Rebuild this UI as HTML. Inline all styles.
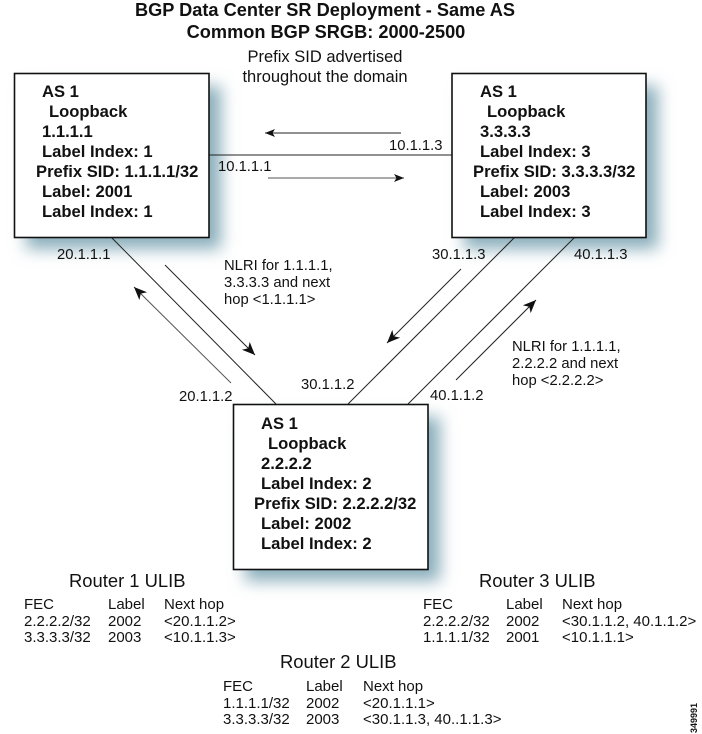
<!DOCTYPE html>
<html><head><meta charset="utf-8"><style>
html,body{margin:0;padding:0;background:#fff}
svg{display:block}
text{font-family:"Liberation Sans",sans-serif;fill:#111}
.b{font-weight:bold;font-size:16.6px}
.t{font-weight:bold;font-size:18.2px}
.n{font-size:14.8px}
.m{font-size:15px}
.h{font-size:18.4px}
.s{font-size:16.5px}
</style></head><body>
<svg width="702" height="734" viewBox="0 0 702 734" xmlns="http://www.w3.org/2000/svg">
<defs>
<filter id="bl" x="-25%" y="-25%" width="150%" height="150%"><feGaussianBlur stdDeviation="8"/></filter>
<marker id="a" markerUnits="userSpaceOnUse" markerWidth="15" markerHeight="12" refX="13" refY="5.500" orient="auto"><path d="M0 0L13 5.500L0 11L3.500 5.500Z" fill="#111"/></marker>
<marker id="c" markerUnits="userSpaceOnUse" markerWidth="12" markerHeight="10" refX="10" refY="4" orient="auto"><path d="M0 0L10 4L0 8L2.500 4Z" fill="#111"/></marker>
</defs>
<g fill="#8aaebb" filter="url(#bl)">
<rect x="26" y="86" width="195" height="163"/>
<rect x="464" y="86" width="194" height="163"/>
<rect x="245" y="417" width="195" height="164"/>
</g>
<g stroke="#222" stroke-width="1" fill="none">
<line x1="209" y1="155" x2="452" y2="155"/>
<line x1="111" y1="237" x2="276" y2="404"/>
<line x1="515" y1="237" x2="348" y2="404"/>
<line x1="575" y1="237" x2="408" y2="404"/>
<line x1="401" y1="133" x2="265" y2="133" marker-end="url(#c)"/>
<line x1="268" y1="178" x2="404" y2="178" stroke="#555" marker-end="url(#c)"/>
<line x1="165" y1="265" x2="255" y2="355" marker-end="url(#a)"/>
<line x1="231" y1="383" x2="134" y2="287" stroke="#555" marker-end="url(#a)"/>
<line x1="461" y1="269" x2="387" y2="343" marker-end="url(#a)"/>
<line x1="456" y1="380" x2="536" y2="300" marker-end="url(#a)"/>
</g>
<g fill="#fff" stroke="#111" stroke-width="1.6">
<rect x="14.500" y="73.500" width="194.500" height="164"/>
<rect x="452" y="73.500" width="194" height="164"/>
<rect x="233.500" y="404.500" width="194.500" height="165"/>
</g>
<text class="t" x="325" y="16" text-anchor="middle">BGP Data Center SR Deployment - Same AS</text>
<text class="t" x="326" y="38" text-anchor="middle">Common BGP SRGB: 2000-2500</text>
<text class="s" x="325" y="62" text-anchor="middle">Prefix SID advertised</text>
<text class="s" x="325" y="82" text-anchor="middle">throughout the domain</text>

<g>
<text class="b" x="42" y="97">AS 1</text>
<text class="b" x="49" y="117">Loopback</text>
<text class="b" x="42" y="137">1.1.1.1</text>
<text class="b" x="42" y="157">Label Index: 1</text>
<text class="b" x="36" y="177">Prefix SID: 1.1.1.1/32</text>
<text class="b" x="42" y="197">Label: 2001</text>
<text class="b" x="42" y="217">Label Index: 1</text>

<text class="b" x="480" y="97">AS 1</text>
<text class="b" x="487" y="117">Loopback</text>
<text class="b" x="480" y="137">3.3.3.3</text>
<text class="b" x="480" y="157">Label Index: 3</text>
<text class="b" x="473" y="177">Prefix SID: 3.3.3.3/32</text>
<text class="b" x="480" y="197">Label: 2003</text>
<text class="b" x="480" y="217">Label Index: 3</text>

<text class="b" x="261" y="429">AS 1</text>
<text class="b" x="268" y="449">Loopback</text>
<text class="b" x="261" y="469">2.2.2.2</text>
<text class="b" x="261" y="489">Label Index: 2</text>
<text class="b" x="254" y="509">Prefix SID: 2.2.2.2/32</text>
<text class="b" x="261" y="529">Label: 2002</text>
<text class="b" x="261" y="549">Label Index: 2</text>
</g>

<text class="n" x="389" y="150">10.1.1.3</text>
<text class="n" x="218" y="171">10.1.1.1</text>
<text class="n" x="57" y="259">20.1.1.1</text>
<text class="n" x="432" y="259">30.1.1.3</text>
<text class="n" x="574" y="259">40.1.1.3</text>
<text class="n" x="179" y="401">20.1.1.2</text>
<text class="n" x="301" y="389">30.1.1.2</text>
<text class="n" x="430" y="400">40.1.1.2</text>

<text class="n" x="224" y="270">NLRI for 1.1.1.1,</text>
<text class="n" x="224" y="287">3.3.3.3 and next</text>
<text class="n" x="224" y="304">hop &lt;1.1.1.1&gt;</text>
<text class="n" x="512" y="351">NLRI for 1.1.1.1,</text>
<text class="n" x="512" y="368">2.2.2.2 and next</text>
<text class="n" x="512" y="385">hop &lt;2.2.2.2&gt;</text>

<text class="h" x="69" y="587">Router 1 ULIB</text>
<text class="m" x="24" y="609">FEC</text><text class="m" x="108" y="609">Label</text><text class="m" x="164" y="609">Next hop</text>
<text class="m" x="24" y="626">2.2.2.2/32</text><text class="m" x="108" y="626">2002</text><text class="m" x="164" y="626">&lt;20.1.1.2&gt;</text>
<text class="m" x="24" y="642">3.3.3.3/32</text><text class="m" x="108" y="642">2003</text><text class="m" x="164" y="642">&lt;10.1.1.3&gt;</text>

<text class="h" x="479" y="587">Router 3 ULIB</text>
<text class="m" x="423" y="609">FEC</text><text class="m" x="506" y="609">Label</text><text class="m" x="562" y="609">Next hop</text>
<text class="m" x="423" y="626">2.2.2.2/32</text><text class="m" x="506" y="626">2002</text><text class="m" x="562" y="626">&lt;30.1.1.2, 40.1.1.2&gt;</text>
<text class="m" x="423" y="642">1.1.1.1/32</text><text class="m" x="506" y="642">2001</text><text class="m" x="562" y="642">&lt;10.1.1.1&gt;</text>

<text class="h" x="280" y="668">Router 2 ULIB</text>
<text class="m" x="223" y="691">FEC</text><text class="m" x="306" y="691">Label</text><text class="m" x="363" y="691">Next hop</text>
<text class="m" x="223" y="708">1.1.1.1/32</text><text class="m" x="306" y="708">2002</text><text class="m" x="363" y="708">&lt;20.1.1.1&gt;</text>
<text class="m" x="223" y="724">3.3.3.3/32</text><text class="m" x="306" y="724">2003</text><text class="m" x="363" y="724">&lt;30.1.1.3, 40..1.1.3&gt;</text>

<text transform="translate(697,733) rotate(-90)" style="font-size:9px;font-weight:bold">349991</text>
</svg>
</body></html>
